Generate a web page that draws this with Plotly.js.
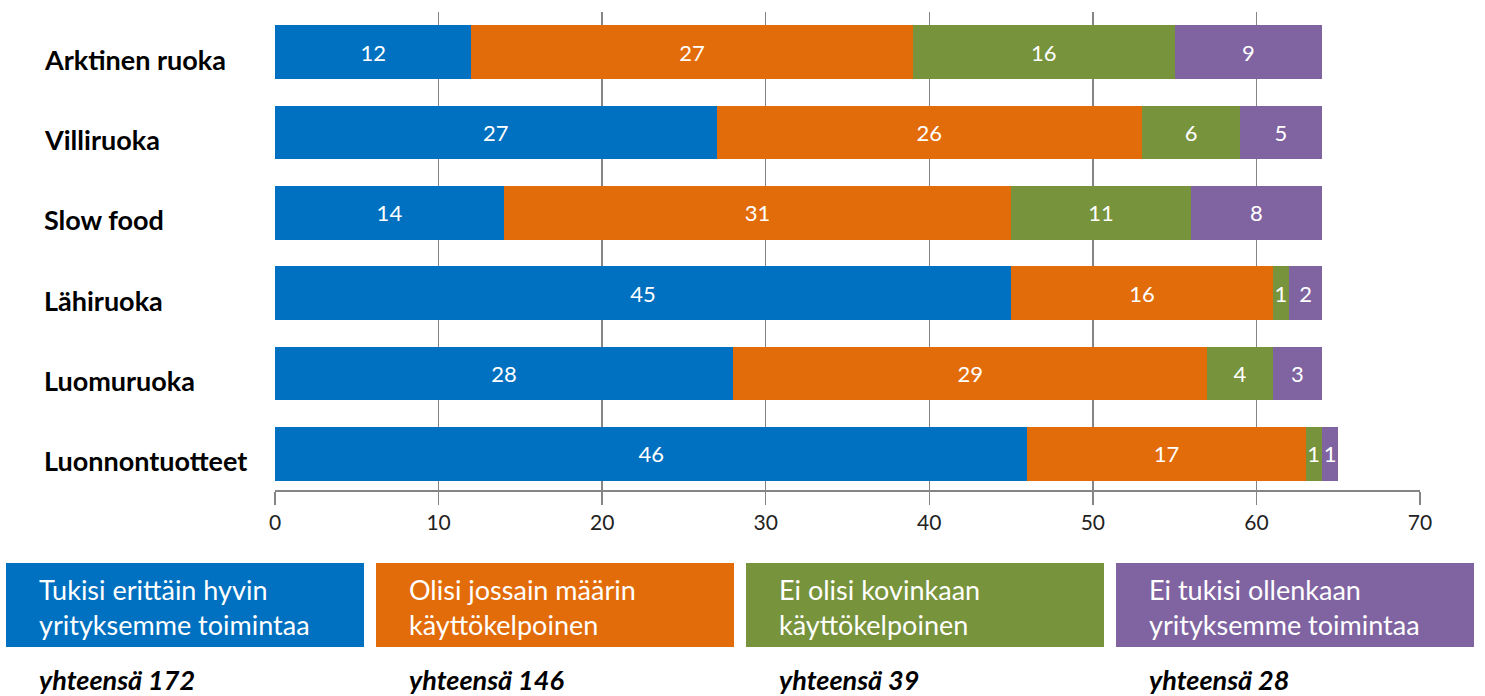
<!DOCTYPE html>
<html>
<head>
<meta charset="utf-8">
<script src="https://cdn.plot.ly/plotly-3.0.1.min.js"></script>
<style>html,body{margin:0;padding:0;background:#fff;}#chart{width:1485px;height:696px;}</style>
</head>
<body>
<div id="chart"></div>
<script>
const categories = ["Arktinen ruoka", "Villiruoka", "Slow food", "Lähiruoka", "Luomuruoka", "Luonnontuotteet"];
const seriesNames = ["Tukisi erittäin hyvin<br>yrityksemme toimintaa", "Olisi jossain määrin<br>käyttökelpoinen", "Ei olisi kovinkaan<br>käyttökelpoinen", "Ei tukisi ollenkaan<br>yrityksemme toimintaa"];
const tukisiHyvin = [12, 27, 14, 45, 28, 46];
const jossainMaarin = [27, 26, 31, 16, 29, 17];
const eiKovinkaan = [16, 6, 11, 1, 4, 1];
const eiOllenkaan = [9, 5, 8, 2, 3, 1];
const totalLabel = "yhteensä";
const xTicks = [0, 10, 20, 30, 40, 50, 60, 70];

const colors = ["#0070C0", "#E36C0A", "#77933C", "#8064A2"];
const seriesValues = [tukisiHyvin, jossainMaarin, eiKovinkaan, eiOllenkaan];
const FONT = "Lato, 'Open Sans', sans-serif";

// plot area in pixels
const L = 275, R = 1420, T = 12, B = 490, W = 1485, H = 696;
const px = p => (p - L) / (R - L);
const py = p => (B - p) / (B - T);

const traces = seriesValues.map((vals, i) => ({
  type: "bar",
  orientation: "h",
  y: categories,
  x: vals,
  name: seriesNames[i],
  marker: {color: colors[i], line: {width: 0}},
  text: vals.map(String),
  textposition: "inside",
  insidetextanchor: "middle",
  constraintext: "none",
  textfont: {color: "#ffffff", size: 22, family: FONT},
  hoverinfo: "x+y",
  showlegend: false
}));

const shapes = [];
const annotations = [];

categories.forEach(c => {
  annotations.push({
    xref: "paper", yref: "y", x: px(42), y: c,
    xanchor: "left", yanchor: "middle", yshift: -7,
    text: "<b>" + c + "</b>", showarrow: false,
    font: {family: FONT, size: 27, color: "#000000"}
  });
});

const boxes = [[6, 364], [376, 734], [746, 1104], [1116, 1474]];
boxes.forEach((b, i) => {
  shapes.push({
    type: "rect", xref: "paper", yref: "paper",
    x0: px(b[0]), x1: px(b[1]), y0: py(647), y1: py(563),
    fillcolor: colors[i], line: {width: 0}, layer: "above"
  });
  annotations.push({
    xref: "paper", yref: "paper", x: px(b[0] + 32), y: py(607),
    xanchor: "left", yanchor: "middle", align: "left",
    text: seriesNames[i], showarrow: false, borderpad: 0,
    font: {family: FONT, size: 27, color: "#ffffff"}
  });
  const total = seriesValues[i].reduce((a, v) => a + v, 0);
  annotations.push({
    xref: "paper", yref: "paper", x: px(b[0] + 32), y: py(679),
    xanchor: "left", yanchor: "middle", align: "left",
    text: "<b><i>" + totalLabel + " " + total + "</i></b>", showarrow: false, borderpad: 0,
    font: {family: FONT, size: 27, color: "#000000"}
  });
});

const layout = {
  width: W, height: H,
  margin: {l: L, r: W - R, t: T, b: H - B, pad: 0},
  paper_bgcolor: "#ffffff", plot_bgcolor: "#ffffff",
  barmode: "stack",
  bargap: 0.33,
  font: {family: FONT},
  xaxis: {
    range: [0, 70],
    tickvals: xTicks,
    ticktext: xTicks.map(String),
    showgrid: true, gridcolor: "#858585", gridwidth: 1.5,
    zeroline: false,
    showline: true, linecolor: "#858585", linewidth: 1.5,
    ticks: "outside", ticklen: 13, tickcolor: "#858585", tickwidth: 1.5,
    tickfont: {family: FONT, size: 21, color: "#222222"},
    fixedrange: true
  },
  yaxis: {
    type: "category",
    categoryorder: "array",
    categoryarray: categories,
    range: [5.45, -0.5],
    showticklabels: false,
    showgrid: false, zeroline: false, showline: false,
    ticks: "",
    fixedrange: true
  },
  shapes: shapes,
  annotations: annotations,
  showlegend: false
};

Plotly.newPlot("chart", traces, layout, {displayModeBar: false, staticPlot: true});
</script>
</body>
</html>
